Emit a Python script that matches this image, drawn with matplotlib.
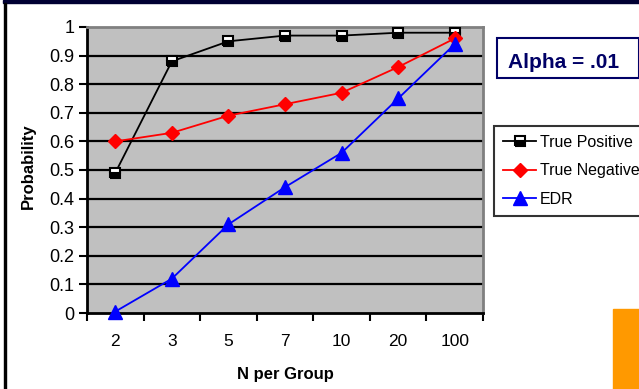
import numpy as np
import matplotlib
matplotlib.use('Agg')
from matplotlib import pyplot as plt
from matplotlib.patches import Rectangle

plt.rcParams['font.family'] = ['Liberation Sans', 'DejaVu Sans']

n_labels = ['2', '3', '5', '7', '10', '20', '100']
true_positive = [0.49, 0.88, 0.95, 0.97, 0.97, 0.98, 0.98]
true_negative = [0.60, 0.63, 0.69, 0.73, 0.77, 0.86, 0.96]
edr = [0.005, 0.12, 0.31, 0.44, 0.56, 0.75, 0.94]
y_ticks = [0, 0.1, 0.2, 0.3, 0.4, 0.5, 0.6, 0.7, 0.8, 0.9, 1]
y_tick_labels = ['0', '0.1', '0.2', '0.3', '0.4', '0.5', '0.6', '0.7', '0.8', '0.9', '1']

W, H = 639, 389
fig = plt.figure(figsize=(W / 100, H / 100), dpi=100)


def px(x0, y0, x1, y1):
    # pixel box (top-left origin) -> figure fraction rect
    return [x0 / W, 1 - y1 / H, (x1 - x0) / W, (y1 - y0) / H]


# frame lines around the slide area
fig.patches.append(Rectangle((3 / W, 1 - 3 / H), 1, 3 / H, transform=fig.transFigure,
                             color='#000033', zorder=5))
fig.patches.append(Rectangle((4 / W, 0), 2 / W, 1 - 3 / H, transform=fig.transFigure,
                             color='black', zorder=5))
fig.patches.append(Rectangle((613 / W, 0), 26 / W, 80 / H, transform=fig.transFigure,
                             color='#FF9900', zorder=5))

ax = fig.add_axes(px(87, 27, 483, 313))
ax.set_facecolor('#C0C0C0')
x = np.arange(len(n_labels))

for y in y_ticks[1:-1]:
    ax.axhline(y, color='black', lw=1.6, zorder=1)

ax.plot(x, true_positive, color='black', lw=1.3, marker='s', ms=7.5,
        mfc='black', mfcalt='white', fillstyle='bottom', mec='black', mew=1.5,
        label='True Positive', zorder=3)
ax.plot(x, true_negative, color='#FF0000', lw=1.3, marker='D', ms=7.5,
        mfc='#FF0000', mec='#FF0000', label='True Negative', zorder=3)
ax.plot(x, edr, color='#0000FF', lw=1.3, marker='^', ms=10,
        mfc='#0000FF', mec='#0000FF', label='EDR', zorder=3, clip_on=False)

ax.set_xlim(-0.5, len(n_labels) - 0.5)
ax.set_ylim(0, 1)
ax.set_xticks(np.arange(len(n_labels) + 1) - 0.5)
ax.set_xticklabels([])
ax.set_xticks(x, minor=True)
ax.set_xticklabels(n_labels, minor=True, fontsize=12.5)
ax.tick_params(axis='x', which='major', direction='out', length=6, width=1.5, color='black')
ax.tick_params(axis='x', which='minor', length=0, pad=15)
ax.set_yticks(y_ticks)
ax.set_yticklabels(y_tick_labels, fontsize=13)
ax.tick_params(axis='y', direction='out', length=6, width=1.5, color='black', pad=3)

ax.spines['left'].set_color('black')
ax.spines['bottom'].set_color('black')
ax.spines['left'].set_linewidth(2)
ax.spines['bottom'].set_linewidth(2)
ax.spines['top'].set_color('#808080')
ax.spines['right'].set_color('#808080')
ax.spines['top'].set_linewidth(2)
ax.spines['right'].set_linewidth(2)

fig.text(28 / W, 1 - 166 / H, 'Probability', rotation=90, fontsize=12,
         fontweight='bold', ha='center', va='center')
fig.text(285 / W, 1 - 375 / H, 'N per Group', fontsize=12,
         fontweight='bold', ha='center', va='center')

# alpha annotation box
fig.patches.append(Rectangle((497 / W, 1 - 78 / H), 142 / W, 40 / H, transform=fig.transFigure,
                             facecolor='white', edgecolor='#000066', lw=1.5, zorder=4))
fig.text(508 / W, 1 - 63 / H, 'Alpha = .01', fontsize=15, fontweight='bold',
         color='#000066', ha='left', va='center', zorder=6)

handles, labels = ax.get_legend_handles_labels()
leg = fig.legend(handles, labels, loc='upper left', bbox_to_anchor=(494 / W, 1 - 126 / H),
                 borderaxespad=0, fontsize=11.5, frameon=True, fancybox=False,
                 handlelength=2.1, handletextpad=0.2, labelspacing=0.85,
                 borderpad=0.55)
leg.get_frame().set_edgecolor('black')
leg.get_frame().set_linewidth(1.5)

fig.savefig('out.png', dpi=100)
